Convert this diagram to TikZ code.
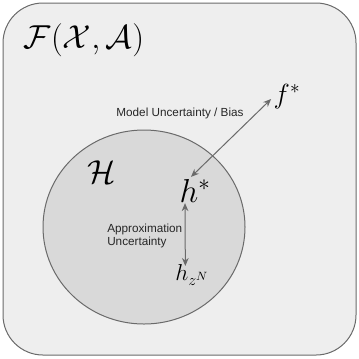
\documentclass[tikz,border=0pt]{standalone}
\usepackage{fontspec}
\setsansfont{Liberation Sans}
\usetikzlibrary{arrows.meta}
\definecolor{outerfill}{HTML}{EEEEEE}
\definecolor{innerfill}{HTML}{D9D9D9}
\definecolor{edgegray}{HTML}{6A6A6A}
\tikzset{
  setlabel/.style={inner sep=1pt},
  smalltext/.style={font=\sffamily\fontsize{8.8}{10}\selectfont, text=black!85, inner sep=0pt, align=left},
  gaparrow/.style={edgegray, line width=0.75pt, {Stealth[length=6pt,width=5pt]}-{Stealth[length=6pt,width=5pt]}}
}
\begin{document}
\begin{tikzpicture}[x=0.75pt,y=-0.75pt]
  \useasboundingbox (0,0) rectangle (359,358);
  % all functions
  \draw[edgegray, line width=0.75pt, fill=outerfill, rounded corners=30pt] (3,3) rectangle (356,355);
  % hypothesis space
  \draw[edgegray, line width=0.75pt, fill=innerfill] (144,227) ellipse [x radius=101, y radius=97];

  \node[setlabel, font=\fontsize{29}{32}\selectfont] (F) at (84,40) {$\mathcal{F}(\mathcal{X},\mathcal{A})$};
  \node[setlabel, font=\fontsize{34}{36}\selectfont] (H) at (102,172) {$\mathcal{H}$};

  \node[setlabel, font=\fontsize{22}{24}\selectfont] (fstar) at (287,97) {$f^*$};
  \node[setlabel, font=\fontsize{23}{25}\selectfont] (hstar) at (195,191) {$h^*$};
  \node[setlabel, font=\fontsize{18}{20}\selectfont] (hzn) at (192,275) {$h_{z^N}$};

  % model uncertainty
  \draw[gaparrow] ([shift={(-4,-1)}]hstar.north) -- ([shift={(-1,2)}]fstar.west);
  \node[smalltext] (bias) at (180,113) {Model Uncertainty / Bias};

  % approximation uncertainty
  \draw[gaparrow] ([shift={(-7.5pt,-1)}]hstar.south) -- ([shift={(-5pt,3)}]hzn.north);
  \node[smalltext, anchor=west] (approx) at (107,236) {Approximation\\Uncertainty};
\end{tikzpicture}
\end{document}
